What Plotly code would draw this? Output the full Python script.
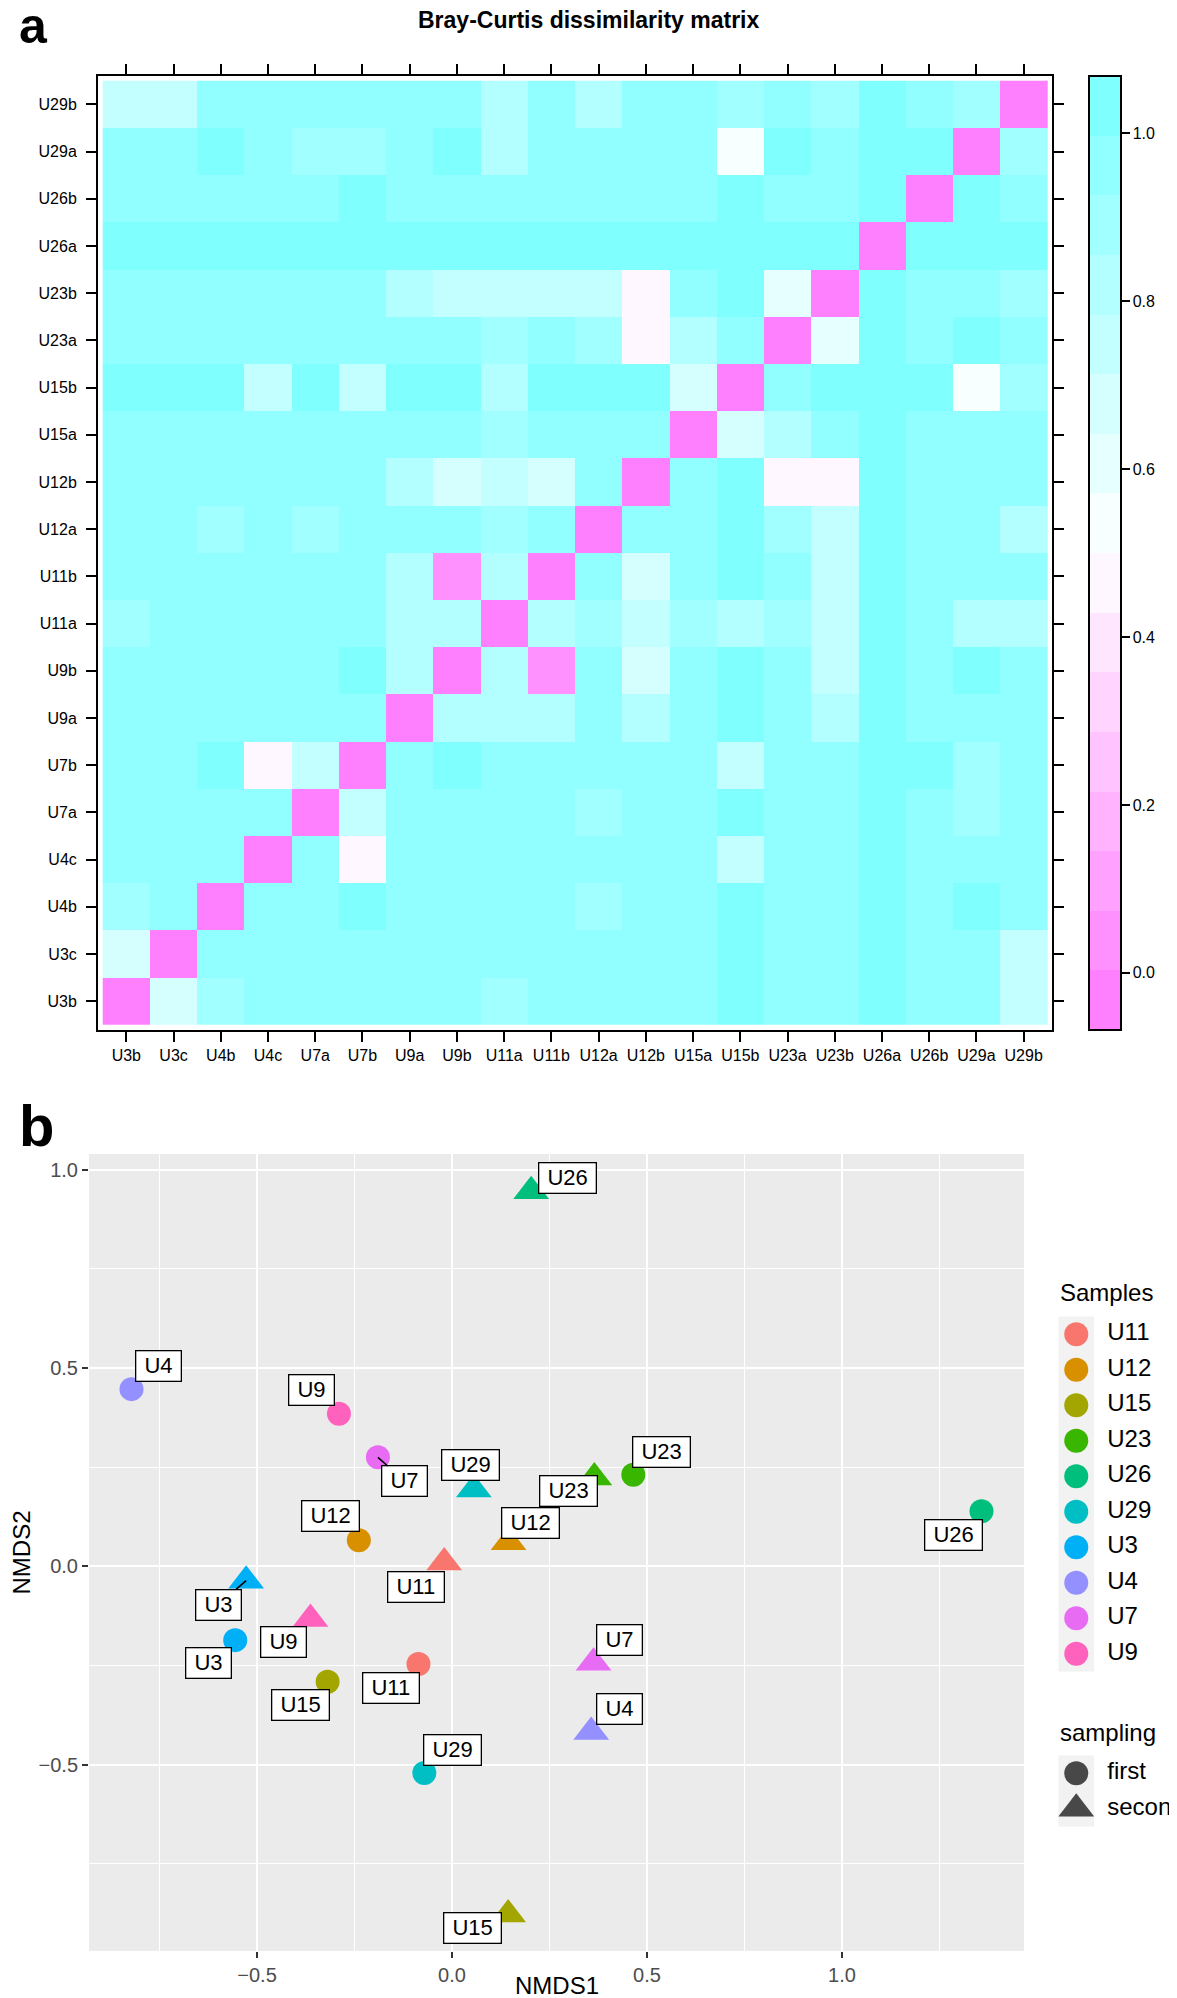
import plotly.graph_objects as go

W, H = 1177, 1998
FONT = "Liberation Sans, Arial, Helvetica, sans-serif"

# ---------------- Panel a: Bray-Curtis dissimilarity matrix ----------------
sample_labels = ["U3b", "U3c", "U4b", "U4c", "U7a", "U7b", "U9a", "U9b", "U11a", "U11b",
                 "U12a", "U12b", "U15a", "U15b", "U23a", "U23b", "U26a", "U26b", "U29a", "U29b"]

# one list per matrix row (bottom row first)
row_U3b = [0.00, 0.68, 0.89, 0.96, 0.96, 0.96, 0.96, 0.96, 0.89, 0.96, 0.96, 0.96, 0.96, 1.00, 0.96, 0.96, 1.00, 0.96, 0.96, 0.75]
row_U3c = [0.68, 0.00, 0.96, 0.96, 0.96, 0.96, 0.96, 0.96, 0.96, 0.96, 0.96, 0.96, 0.96, 1.00, 0.96, 0.96, 1.00, 0.96, 0.96, 0.75]
row_U4b = [0.89, 0.96, 0.00, 0.96, 0.96, 1.00, 0.96, 0.96, 0.96, 0.96, 0.89, 0.96, 0.96, 1.00, 0.96, 0.96, 1.00, 0.96, 1.00, 0.96]
row_U4c = [0.96, 0.96, 0.96, 0.00, 0.96, 0.46, 0.96, 0.96, 0.96, 0.96, 0.96, 0.96, 0.96, 0.75, 0.96, 0.96, 1.00, 0.96, 0.96, 0.96]
row_U7a = [0.96, 0.96, 0.96, 0.96, 0.00, 0.75, 0.96, 0.96, 0.96, 0.96, 0.89, 0.96, 0.96, 1.00, 0.96, 0.96, 1.00, 0.96, 0.89, 0.96]
row_U7b = [0.96, 0.96, 1.00, 0.46, 0.75, 0.00, 0.96, 1.00, 0.96, 0.96, 0.96, 0.96, 0.96, 0.75, 0.96, 0.96, 1.00, 1.00, 0.89, 0.96]
row_U9a = [0.96, 0.96, 0.96, 0.96, 0.96, 0.96, 0.00, 0.82, 0.82, 0.82, 0.96, 0.82, 0.96, 1.00, 0.96, 0.82, 1.00, 0.96, 0.96, 0.96]
row_U9b = [0.96, 0.96, 0.96, 0.96, 0.96, 1.00, 0.82, 0.00, 0.82, 0.05, 0.96, 0.68, 0.96, 1.00, 0.96, 0.75, 1.00, 0.96, 1.00, 0.96]
row_U11a = [0.89, 0.96, 0.96, 0.96, 0.96, 0.96, 0.82, 0.82, 0.00, 0.82, 0.89, 0.75, 0.89, 0.82, 0.89, 0.75, 1.00, 0.96, 0.82, 0.82]
row_U11b = [0.96, 0.96, 0.96, 0.96, 0.96, 0.96, 0.82, 0.05, 0.82, 0.00, 0.96, 0.68, 0.96, 1.00, 0.96, 0.75, 1.00, 0.96, 0.96, 0.96]
row_U12a = [0.96, 0.96, 0.89, 0.96, 0.89, 0.96, 0.96, 0.96, 0.89, 0.96, 0.00, 0.96, 0.96, 1.00, 0.89, 0.75, 1.00, 0.96, 0.96, 0.82]
row_U12b = [0.96, 0.96, 0.96, 0.96, 0.96, 0.96, 0.82, 0.68, 0.75, 0.68, 0.96, 0.00, 0.96, 1.00, 0.46, 0.46, 1.00, 0.96, 0.96, 0.96]
row_U15a = [0.96, 0.96, 0.96, 0.96, 0.96, 0.96, 0.96, 0.96, 0.89, 0.96, 0.96, 0.96, 0.00, 0.68, 0.82, 0.96, 1.00, 0.96, 0.96, 0.96]
row_U15b = [1.00, 1.00, 1.00, 0.75, 1.00, 0.75, 1.00, 1.00, 0.82, 1.00, 1.00, 1.00, 0.68, 0.00, 0.96, 1.00, 1.00, 1.00, 0.54, 0.89]
row_U23a = [0.96, 0.96, 0.96, 0.96, 0.96, 0.96, 0.96, 0.96, 0.89, 0.96, 0.89, 0.46, 0.82, 0.96, 0.00, 0.61, 1.00, 0.96, 1.00, 0.96]
row_U23b = [0.96, 0.96, 0.96, 0.96, 0.96, 0.96, 0.82, 0.75, 0.75, 0.75, 0.75, 0.46, 0.96, 1.00, 0.61, 0.00, 1.00, 0.96, 0.96, 0.89]
row_U26a = [1.00, 1.00, 1.00, 1.00, 1.00, 1.00, 1.00, 1.00, 1.00, 1.00, 1.00, 1.00, 1.00, 1.00, 1.00, 1.00, 0.00, 1.00, 1.00, 1.00]
row_U26b = [0.96, 0.96, 0.96, 0.96, 0.96, 1.00, 0.96, 0.96, 0.96, 0.96, 0.96, 0.96, 0.96, 1.00, 0.96, 0.96, 1.00, 0.00, 1.00, 0.96]
row_U29a = [0.96, 0.96, 1.00, 0.96, 0.89, 0.89, 0.96, 1.00, 0.82, 0.96, 0.96, 0.96, 0.96, 0.54, 1.00, 0.96, 1.00, 1.00, 0.00, 0.89]
row_U29b = [0.75, 0.75, 0.96, 0.96, 0.96, 0.96, 0.96, 0.96, 0.82, 0.96, 0.82, 0.96, 0.96, 0.89, 0.96, 0.89, 1.00, 0.96, 0.89, 0.00]

colorbar_ticks = [0.0, 0.2, 0.4, 0.6, 0.8, 1.0]

# ---------------- Panel b: NMDS ordination ----------------
sample_ids = ["U11", "U12", "U15", "U23", "U26", "U29", "U3", "U4", "U7", "U9"]
nmds1_first = [-0.086, -0.239, -0.319, 0.465, 1.358, -0.071, -0.556, -0.822, -0.190, -0.290]
nmds2_first = [-0.246, 0.066, -0.291, 0.231, 0.139, -0.521, -0.186, 0.447, 0.275, 0.385]
nmds1_second = [-0.020, 0.145, 0.144, 0.365, 0.203, 0.056, -0.528, 0.357, 0.363, -0.363]
nmds2_second = [0.010, 0.061, -0.878, 0.224, 0.946, 0.194, -0.036, -0.418, -0.243, -0.133]
sampling_levels = ["first", "second"]

# ---------------- styles ----------------
matrix_rows = [row_U3b, row_U3c, row_U4b, row_U4c, row_U7a, row_U7b, row_U9a, row_U9b,
               row_U11a, row_U11b, row_U12a, row_U12b, row_U15a, row_U15b, row_U23a,
               row_U23b, row_U26a, row_U26b, row_U29a, row_U29b]

sample_colors = ["#F8766D", "#D89000", "#A3A500", "#39B600", "#00BF7D",
                 "#00BFC4", "#00B0F6", "#9590FF", "#E76BF3", "#FF62BC"]

# lattice-like magenta -> white -> cyan palette, 16 bands
n_bands = 16
band_colors = []
for k in range(n_bands):
    t = k / (n_bands - 1)
    if t <= 0.5:
        g = round(128 + 254 * t)
        band_colors.append("rgb(255,%d,255)" % min(g, 255))
    else:
        r = round(255 - 254 * (t - 0.5))
        band_colors.append("rgb(%d,255,255)" % r)
colorscale = []
for k, c in enumerate(band_colors):
    colorscale.append([k / n_bands, c])
    colorscale.append([(k + 1) / n_bands, c])

ZMIN, ZMAX = -0.068, 1.068


def px_x(p):
    return p / W


def px_y(p):
    return 1 - p / H


fig = go.Figure()

fig.add_trace(go.Heatmap(
    z=matrix_rows, x=sample_labels, y=sample_labels,
    zmin=ZMIN, zmax=ZMAX, colorscale=colorscale,
    xaxis="x", yaxis="y", hoverinfo="skip",
    colorbar=dict(
        x=px_x(1081), xanchor="left", y=px_y(68), yanchor="top",
        len=(1021.5 - 68) / H, lenmode="fraction",
        thickness=32, thicknessmode="pixels",
        outlinewidth=2, outlinecolor="black", xpad=0, ypad=0,
        ticks="outside", ticklen=8, tickwidth=1.5, tickcolor="black",
        tickvals=colorbar_ticks, tickformat=".1f",
        tickfont=dict(size=16, color="black", family=FONT),
    ),
))

# NMDS points
fig.add_trace(go.Scatter(
    x=nmds1_first, y=nmds2_first, mode="markers", xaxis="x2", yaxis="y2",
    marker=dict(symbol="circle", size=24, color=sample_colors, line=dict(width=0)),
    hoverinfo="skip", showlegend=False,
))
fig.add_trace(go.Scatter(
    x=nmds1_second, y=nmds2_second, mode="markers", xaxis="x2", yaxis="y2",
    marker=dict(symbol="triangle-up", size=31, color=sample_colors, line=dict(width=0)),
    hoverinfo="skip", showlegend=False,
))

# manual legends (key columns)
fig.add_trace(go.Scatter(
    x=[0] * len(sample_ids), y=sample_ids, mode="markers", xaxis="x3", yaxis="y3",
    marker=dict(symbol="circle", size=24, color=sample_colors, line=dict(width=0)),
    hoverinfo="skip", showlegend=False, cliponaxis=False,
))
fig.add_trace(go.Scatter(
    x=[31] * len(sample_ids), y=sample_ids, mode="text", text=sample_ids,
    textposition="middle right", xaxis="x3", yaxis="y3",
    textfont=dict(size=24, color="black", family=FONT),
    hoverinfo="skip", showlegend=False, cliponaxis=False,
))
fig.add_trace(go.Scatter(
    x=[0, 0], y=sampling_levels, mode="markers", xaxis="x4", yaxis="y4",
    marker=dict(symbol=["circle", "triangle-up"], size=[24, 31], color="black", line=dict(width=0)),
    hoverinfo="skip", showlegend=False, cliponaxis=False,
))
fig.add_trace(go.Scatter(
    x=[31, 31], y=sampling_levels, mode="text", text=sampling_levels,
    textposition="middle right", xaxis="x4", yaxis="y4",
    textfont=dict(size=24, color="black", family=FONT),
    hoverinfo="skip", showlegend=False, cliponaxis=False,
))

# label offsets (pixels) for the repelled labels
offsets_first = {"U11": (-27, 24), "U12": (-28, -24), "U15": (-27, 23), "U23": (28, -23),
                 "U26": (-28, 24), "U29": (28, -23), "U3": (-27, 23), "U4": (27, -23),
                 "U7": (27, 24), "U9": (-27, -24)}
offsets_second = {"U11": (-28, 25), "U12": (22, -19), "U15": (-36, 13), "U23": (-26, 13),
                  "U26": (36, -13), "U29": (-3, -24), "U3": (-28, 24), "U4": (28, -23),
                  "U7": (26, -23), "U9": (-27, 23)}
segments = {("first", "U7"), ("second", "U3")}

annotations = []
for lvl, xs, ys, offs in (("first", nmds1_first, nmds2_first, offsets_first),
                          ("second", nmds1_second, nmds2_second, offsets_second)):
    for sid, xv, yv in zip(sample_ids, xs, ys):
        ax, ay = offs[sid]
        seg = (lvl, sid) in segments
        annotations.append(dict(
            x=xv, y=yv, xref="x2", yref="y2", text="\u00a0" + sid + "\u00a0",
            showarrow=True, ax=ax, ay=ay, arrowhead=0, arrowwidth=1.6,
            arrowcolor="black" if seg else "rgba(0,0,0,0)", standoff=0, startstandoff=0,
            bgcolor="white", bordercolor="black", borderwidth=1.3, borderpad=2,
            font=dict(size=22, color="black", family=FONT),
        ))

# titles / panel letters
annotations += [
    dict(text="<b>a</b>", x=px_x(9), y=px_y(18), xref="paper", yref="paper",
         xanchor="left", yanchor="middle", showarrow=False, font=dict(size=50, color="black", family=FONT)),
    dict(text="<b>b</b>", x=px_x(9), y=px_y(1117), xref="paper", yref="paper",
         xanchor="left", yanchor="middle", showarrow=False, font=dict(size=58, color="black", family=FONT)),
    dict(text="<b>Bray-Curtis dissimilarity matrix</b>", x=px_x(581), y=px_y(12), xref="paper", yref="paper",
         xanchor="center", yanchor="middle", showarrow=False, font=dict(size=23, color="black", family=FONT)),
    dict(text="NMDS1", x=px_x(548.5), y=px_y(1977), xref="paper", yref="paper",
         xanchor="center", yanchor="middle", showarrow=False, font=dict(size=24, color="black", family=FONT)),
    dict(text="NMDS2", x=px_x(13), y=px_y(1544.5), xref="paper", yref="paper", textangle=-90,
         xanchor="center", yanchor="middle", showarrow=False, font=dict(size=24, color="black", family=FONT)),
    dict(text="Samples", x=px_x(1050), y=px_y(1284), xref="paper", yref="paper",
         xanchor="left", yanchor="middle", showarrow=False, font=dict(size=24, color="black", family=FONT)),
    dict(text="sampling", x=px_x(1050), y=px_y(1724), xref="paper", yref="paper",
         xanchor="left", yanchor="middle", showarrow=False, font=dict(size=24, color="black", family=FONT)),
]

shapes = [
    dict(type="rect", xref="x2 domain", yref="y2 domain", x0=0, x1=1, y0=0, y1=1,
         fillcolor="#EBEBEB", line=dict(width=0), layer="below"),
    dict(type="rect", xref="x3 domain", yref="y3 domain", x0=0, x1=35.5 / 126.5, y0=0, y1=1,
         fillcolor="#F2F2F2", line=dict(width=0), layer="below"),
    dict(type="rect", xref="x4 domain", yref="y4 domain", x0=0, x1=35.5 / 126.5, y0=0, y1=1,
         fillcolor="#F2F2F2", line=dict(width=0), layer="below"),
]

heat_axis = dict(
    type="category", range=[-0.6, 19.6], showgrid=False, zeroline=False,
    showline=True, linecolor="black", linewidth=2, mirror="ticks",
    ticks="outside", ticklen=10, tickwidth=1.5, tickcolor="black",
    tickfont=dict(size=16, color="black", family=FONT),
    categoryorder="array", categoryarray=sample_labels,
)

nmds_axis = dict(
    showline=False, zeroline=False, showgrid=True, gridcolor="white", gridwidth=2.2,
    ticks="outside", ticklen=6, tickwidth=1.5, tickcolor="#333333",
    tickfont=dict(size=20, color="#4D4D4D", family=FONT),
    dtick=0.5, tick0=0, tickformat=".1f",
    minor=dict(dtick=0.25, tick0=0, showgrid=True, gridcolor="white", gridwidth=1.1, ticks=""),
)

legend_x = dict(domain=[px_x(1050.5), 1.0], range=[-17.75, 108.75], visible=False, fixedrange=True)

fig.update_layout(
    width=W, height=H, autosize=False, margin=dict(l=0, r=0, t=0, b=0),
    template="none", paper_bgcolor="white", plot_bgcolor="white",
    font=dict(family=FONT, color="black"), showlegend=False,
    xaxis=dict(heat_axis, domain=[px_x(90), px_x(1044)], anchor="y", ticklabelstandoff=0),
    yaxis=dict(heat_axis, domain=[px_y(1021.5), px_y(68)], anchor="x", ticklabelstandoff=6),
    xaxis2=dict(nmds_axis, domain=[px_x(81), px_x(1016)], range=[-0.931, 1.467], anchor="y2"),
    yaxis2=dict(nmds_axis, domain=[px_y(1943), px_y(1146)], range=[-0.97, 1.04], anchor="x2"),
    xaxis3=dict(legend_x, anchor="y3"),
    yaxis3=dict(domain=[px_y(1663.5), px_y(1308.5)], type="category", categoryorder="array",
                categoryarray=sample_ids, range=[9.5, -0.5], visible=False, anchor="x3"),
    xaxis4=dict(legend_x, anchor="y4"),
    yaxis4=dict(domain=[px_y(1818.5), px_y(1747.5)], type="category", categoryorder="array",
                categoryarray=sampling_levels, range=[1.5, -0.5], visible=False, anchor="x4"),
    annotations=annotations, shapes=shapes,
)

fig.write_html("out.html")
